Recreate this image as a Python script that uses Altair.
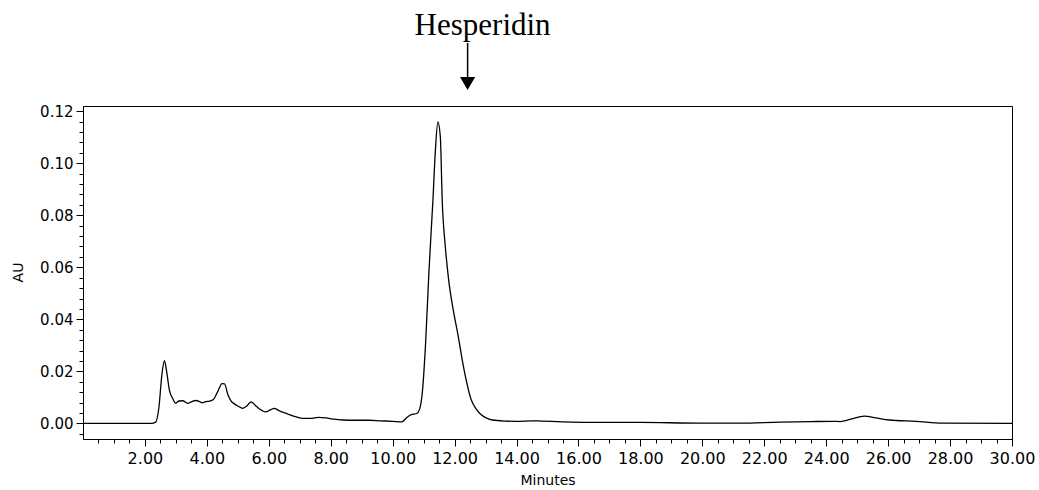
import altair as alt
import pandas as pd

# Chromatogram trace (retention time in minutes, absorbance in AU)
minutes = [0.0, 2.2, 2.35, 2.45, 2.55, 2.63, 2.7, 2.79, 2.9, 2.99, 3.1, 3.22, 3.38, 3.5,
           3.63, 3.75, 3.85, 3.97, 4.09, 4.2, 4.35, 4.49, 4.57, 4.68, 4.79, 4.9, 5.0,
           5.16, 5.3, 5.43, 5.55, 5.7, 5.9, 6.05, 6.18, 6.3, 6.45, 6.6, 6.8, 7.1, 7.35,
           7.6, 7.85, 8.1, 8.4, 8.8, 9.25, 9.6, 10.0, 10.3, 10.45, 10.6, 10.78, 10.87,
           10.95, 11.06, 11.17, 11.3, 11.38, 11.46, 11.54, 11.6, 11.7, 11.81, 11.95,
           12.1, 12.3, 12.54, 12.7, 12.86, 13.0, 13.22, 13.6, 14.0, 14.5, 14.8, 15.5,
           16.7, 18.0, 19.9, 21.2, 22.5, 23.5, 24.2, 24.45, 24.8, 25.23, 25.6, 26.04,
           26.9, 27.76, 30.0]
au = [0.0, 0.0, 0.0005, 0.006, 0.019, 0.0241, 0.02, 0.0128, 0.0095, 0.0078, 0.0086,
      0.0087, 0.0077, 0.0083, 0.0088, 0.0085, 0.0079, 0.0084, 0.0086, 0.0091, 0.0122,
      0.0153, 0.0152, 0.011, 0.0085, 0.0074, 0.0067, 0.0058, 0.0068, 0.0083, 0.0071,
      0.0055, 0.0044, 0.0052, 0.0058, 0.0051, 0.0043, 0.0037, 0.0028, 0.0019, 0.0019,
      0.0023, 0.0021, 0.0016, 0.0013, 0.0012, 0.0012, 0.001, 0.0008, 0.0006, 0.0022,
      0.0034, 0.0038, 0.0055, 0.011, 0.03, 0.058, 0.0858, 0.105, 0.1159, 0.11, 0.0858,
      0.068, 0.055, 0.044, 0.0346, 0.021, 0.009, 0.0055, 0.0033, 0.0022, 0.0013, 0.0009,
      0.0008, 0.001, 0.0009, 0.0006, 0.0004, 0.0004, 0.0001, 0.0001, 0.0005, 0.0007,
      0.0008, 0.0007, 0.0016, 0.0028, 0.0021, 0.0013, 0.0008, 0.0001, 0.0]

x_major = [2, 4, 6, 8, 10, 12, 14, 16, 18, 20, 22, 24, 26, 28, 30]
x_minor = [i * 0.5 for i in range(1, 61) if i % 4 != 0]
y_major = [0.0, 0.02, 0.04, 0.06, 0.08, 0.10, 0.12]
y_minor = [round(-0.004 + 0.004 * i, 3) for i in range(0, 32) if (i - 1) % 5 != 0]

peak_label = ["Hesperidin"]
peak_time = [12.42]

df = pd.DataFrame({"Minutes": minutes, "AU": au})
ann = pd.DataFrame({"Minutes": peak_time, "label": peak_label})

xscale = alt.Scale(domain=[0, 30], nice=False, zero=False)
yscale = alt.Scale(domain=[-0.006, 0.122], nice=False, zero=False)

FONT = "DejaVu Sans"

line = alt.Chart(df).mark_line(color="black", strokeWidth=1.3, interpolate="monotone").encode(
    x=alt.X("Minutes:Q", scale=xscale,
            axis=alt.Axis(values=x_major, format=".2f", tickSize=7, labelPadding=4,
                          orient="bottom", title="Minutes", titleFont=FONT,
                          titleFontSize=14, titleFontWeight="normal", titleBaseline="middle",
                          titleY=41, labelFont=FONT, labelFontSize=16, grid=False,
                          labelOverlap=False, labelFlush=False)),
    y=alt.Y("AU:Q", scale=yscale,
            axis=alt.Axis(values=y_major, format=".2f", tickSize=7, labelPadding=3,
                          orient="left", title="AU", titleFont=FONT, titleFontSize=14,
                          titleFontWeight="normal", titleBaseline="middle", titleAlign="center",
                          titleAngle=270, titleX=-65, titleY=166, labelFont=FONT,
                          labelFontSize=15, grid=False, labelOverlap=False, labelFlush=False)),
)

minor = alt.Chart(df).mark_line(opacity=0).encode(
    x=alt.X("Minutes:Q", scale=xscale,
            axis=alt.Axis(values=x_minor, labels=False, tickSize=4, orient="bottom",
                          title="", domain=False, grid=False)),
    y=alt.Y("AU:Q", scale=yscale,
            axis=alt.Axis(values=y_minor, labels=False, tickSize=4, orient="left",
                          title="", domain=False, grid=False)),
)

label = alt.Chart(ann).mark_text(font="Liberation Serif", fontSize=31, baseline="alphabetic",
                                 align="center", dx=15, color="black").encode(
    x=alt.X("Minutes:Q", scale=xscale, axis=None),
    y=alt.value(-71),
    text="label:N",
)

shaft = alt.Chart(ann).mark_rule(color="black", strokeWidth=1.5).encode(
    x=alt.X("Minutes:Q", scale=xscale, axis=None),
    y=alt.value(-63),
    y2=alt.value(-27),
)

head = alt.Chart(ann).mark_point(shape="triangle-down", filled=True, color="black",
                                 size=230, opacity=1).encode(
    x=alt.X("Minutes:Q", scale=xscale, axis=None),
    y=alt.value(-22.5),
)

chart = alt.layer(line, minor, label, shaft, head).resolve_axis(
    x="independent", y="independent"
).properties(
    width=929, height=333,
    autosize=alt.AutoSizeParams(type="none"),
    padding={"left": 83, "top": 106, "right": 27, "bottom": 51},
    background="white",
).configure_view(
    stroke="black", strokeWidth=1
).configure_axis(
    domainColor="black", tickColor="black", labelColor="black", titleColor="black",
    domainWidth=1, tickWidth=1
)

chart.save("out.html", embed_options={"renderer": "svg", "actions": False})
